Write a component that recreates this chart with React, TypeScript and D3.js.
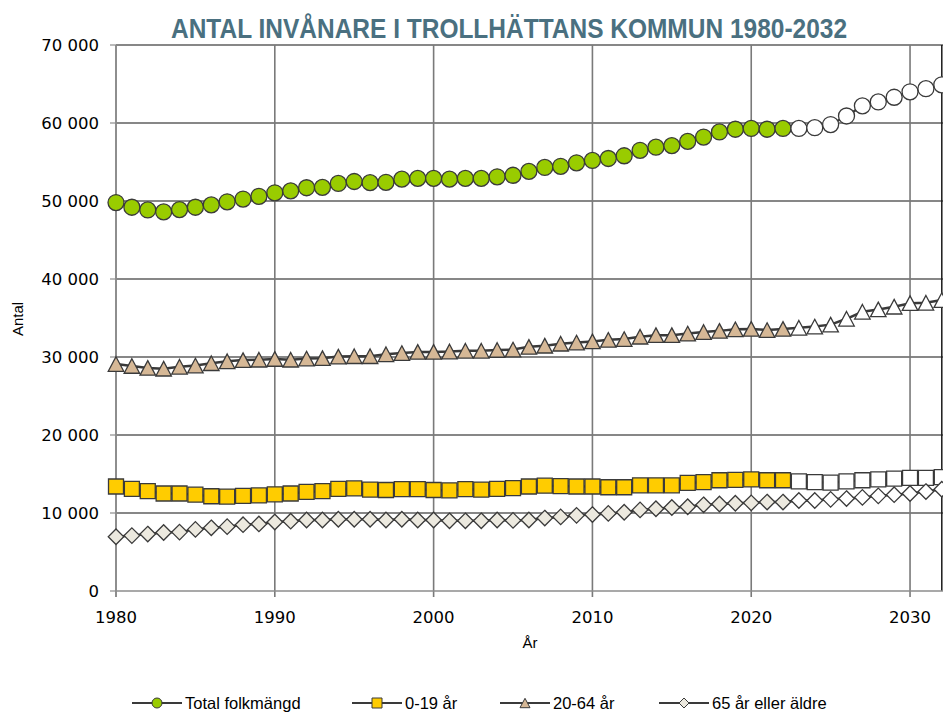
import React from 'react'
import * as d3 from 'd3'

const years = d3.range(1980, 2033)
const firstForecast = 2023

// values in thousands
const total = [49.8, 49.2, 48.85, 48.6, 48.9, 49.2, 49.5, 49.9, 50.25, 50.6, 51.05, 51.3, 51.7, 51.75, 52.25, 52.5, 52.35, 52.4, 52.8, 52.9, 52.9, 52.8, 52.9, 52.9, 53.1, 53.3, 53.8, 54.3, 54.45, 54.9, 55.2, 55.45, 55.8, 56.5, 56.9, 57.1, 57.65, 58.2, 58.85, 59.2, 59.3, 59.2, 59.3, 59.3, 59.4, 59.8, 60.9, 62.2, 62.7, 63.3, 64.0, 64.4, 64.9]
const age0to19 = [13.4, 13.1, 12.8, 12.5, 12.5, 12.35, 12.15, 12.1, 12.2, 12.25, 12.4, 12.5, 12.7, 12.8, 13.1, 13.15, 13.0, 12.95, 13.05, 13.05, 12.95, 12.9, 13.05, 13.0, 13.1, 13.2, 13.4, 13.5, 13.45, 13.4, 13.4, 13.3, 13.3, 13.55, 13.55, 13.55, 13.85, 13.95, 14.2, 14.25, 14.3, 14.2, 14.2, 14.05, 13.95, 13.9, 14.05, 14.2, 14.3, 14.4, 14.5, 14.5, 14.6]
const age20to64 = [29.1, 28.85, 28.6, 28.5, 28.75, 28.9, 29.2, 29.45, 29.6, 29.65, 29.75, 29.65, 29.8, 29.85, 30.05, 30.1, 30.1, 30.35, 30.5, 30.65, 30.65, 30.7, 30.8, 30.8, 30.9, 30.95, 31.3, 31.45, 31.7, 31.85, 32.0, 32.2, 32.3, 32.6, 32.8, 32.8, 33.0, 33.2, 33.35, 33.55, 33.6, 33.45, 33.6, 33.75, 33.9, 34.15, 34.9, 35.8, 36.1, 36.45, 36.9, 36.95, 37.3]
const age65plus = [6.96, 7.1, 7.3, 7.5, 7.55, 7.9, 8.1, 8.25, 8.5, 8.6, 8.85, 8.95, 9.1, 9.1, 9.2, 9.2, 9.2, 9.1, 9.2, 9.1, 9.1, 9.0, 9.0, 9.0, 9.1, 9.05, 9.1, 9.35, 9.5, 9.7, 9.8, 9.95, 10.1, 10.4, 10.55, 10.7, 10.8, 11.05, 11.15, 11.25, 11.3, 11.4, 11.4, 11.6, 11.6, 11.75, 11.85, 12.0, 12.2, 12.35, 12.5, 12.75, 13.05]

const yTicks = [0, 10000, 20000, 30000, 40000, 50000, 60000, 70000]
const xTicks = [1980, 1990, 2000, 2010, 2020, 2030]

const series = [
  { name: 'Total folkmängd', values: total, shape: 'circle', fill: '#99cc00' },
  { name: '0-19 år', values: age0to19, shape: 'square', fill: '#ffcc00' },
  { name: '20-64 år', values: age20to64, shape: 'triangle', fill: '#d6b896' },
  { name: '65 år eller äldre', values: age65plus, shape: 'diamond', fill: '#ece9df' },
]

const W = 943
const H = 714
const left = 116
const top = 45
const bottom = 591

const x = d3.scaleLinear().domain([1980, 2032]).range([left, 941.8])
const y = d3.scaleLinear().domain([0, 70000]).range([bottom, top])
const fmt = (v: number) => d3.format(',')(v).replace(/,/g, ' ')

const markerPath = (shape: string, s: number) => {
  if (shape === 'square') return `M${-s / 2},${-s / 2}h${s}v${s}h${-s}Z`
  if (shape === 'triangle') return `M0,${-s * 0.47}L${s / 2},${s * 0.47}L${-s / 2},${s * 0.47}Z`
  if (shape === 'diamond') return `M0,${-s / 2}L${s / 2},0L0,${s / 2}L${-s / 2},0Z`
  const r = s / 2
  return `M${r},0A${r},${r} 0 1,1 ${-r},0A${r},${r} 0 1,1 ${r},0Z`
}

const markerSize: Record<string, number> = { circle: 16, square: 15, triangle: 15.5, diamond: 15.5 }

const line = d3.line<number>()
  .x((d, i) => x(years[i]))
  .y(d => y(d * 1000))

const legendPos = [132, 352, 500, 659]

export default function App() {
  return (
    <svg width={W} height={H} style={{ position: 'absolute', left: 0, top: 0, background: '#fff' }}
      fontFamily="'Liberation Sans', Arial, sans-serif">
      <text x={509} y={38} textAnchor="middle" fill="#4a7080" fontFamily="'Liberation Sans Narrow', 'Liberation Sans', sans-serif"
        fontWeight="bold" fontSize={27} textLength={676} lengthAdjust="spacingAndGlyphs">
        ANTAL INVÅNARE I TROLLHÄTTANS KOMMUN 1980-2032
      </text>

      {/* gridlines */}
      {yTicks.filter(t => t > 0).map(t => (
        <line key={t} x1={left} x2={943} y1={y(t)} y2={y(t)} stroke="#111" strokeWidth={1.2} />
      ))}
      {xTicks.map(t => (
        <line key={t} x1={x(t)} x2={x(t)} y1={top} y2={bottom + 6} stroke="#7a7a7a" strokeWidth={1.6} />
      ))}
      <line x1={941.8} x2={941.8} y1={top} y2={bottom} stroke="#1a1a1a" strokeWidth={1.5} />
      <line x1={left} x2={left} y1={top} y2={bottom + 6} stroke="#8c8c8c" strokeWidth={1.5} />
      <line x1={left} x2={943} y1={bottom} y2={bottom} stroke="#8c8c8c" strokeWidth={1.5} />
      {yTicks.map(t => (
        <line key={t} x1={left - 6} x2={left} y1={y(t)} y2={y(t)} stroke="#8c8c8c" strokeWidth={1.2} />
      ))}

      {/* axis labels */}
      {yTicks.map(t => (
        <text key={t} x={99} y={y(t)} dy="0.36em" textAnchor="end" fontFamily="'DejaVu Sans', sans-serif" fontSize={16.5} fill="#000">
          {fmt(t)}
        </text>
      ))}
      {xTicks.map(t => (
        <text key={t} x={x(t)} y={623} textAnchor="middle" fontFamily="'DejaVu Sans', sans-serif" fontSize={16.5} fill="#000">
          {t}
        </text>
      ))}
      <text transform="translate(23,319) rotate(-90)" textAnchor="middle" fontSize={15} fill="#000">Antal</text>
      <text x={530} y={648} textAnchor="middle" fontSize={15} fill="#000">År</text>

      {/* series */}
      {series.map(s => (
        <g key={s.name}>
          <path d={line(s.values) || ''} fill="none" stroke="#3a3a3a" strokeWidth={2.5} />
          {s.values.map((v, i) => (
            <path key={i} d={markerPath(s.shape, markerSize[s.shape])}
              transform={`translate(${x(years[i])},${y(v * 1000)})`}
              fill={years[i] >= firstForecast ? '#ffffff' : s.fill}
              stroke="#3a3a3a" strokeWidth={1.3} />
          ))}
        </g>
      ))}

      {/* legend */}
      {series.map((s, i) => (
        <g key={s.name} transform={`translate(${legendPos[i]},703)`}>
          <line x1={0} x2={50} y1={0} y2={0} stroke="#3a3a3a" strokeWidth={2} />
          <path d={markerPath(s.shape, 10)} transform="translate(25,0)" fill={s.fill} stroke="#3a3a3a" strokeWidth={1} />
          <text x={53} y={0} dy="0.36em" fontSize={16.5} fill="#000">{s.name}</text>
        </g>
      ))}
    </svg>
  )
}
